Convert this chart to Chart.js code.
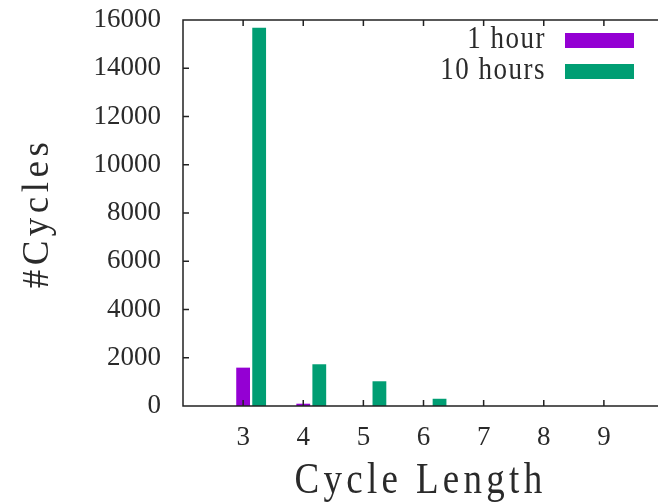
<!DOCTYPE html>
<html>
<head>
<meta charset="utf-8">
<script src="https://cdn.jsdelivr.net/npm/chart.js@4.4.1/dist/chart.umd.min.js"></script>
<style>
  body { margin: 0; background: #fff; }
</style>
</head>
<body>
<canvas id="myChart" width="658" height="502"></canvas>
<script>
// x axis: cycle length
var cycleLengths = [3, 4, 5, 6, 7, 8, 9];
// number of cycles found, per run length
var oneHour = [1590, 95, 0, 0, 0, 0, 0];
var tenHours = [15680, 1730, 1025, 300, 0, 0, 0];
var seriesLabels = ['1 hour', '10 hours'];
var seriesColors = ['#9400d3', '#009e73'];

var serif = '"Liberation Serif", "DejaVu Serif", serif';
var textColor = '#2a2a2a';

function points(values) {
    return cycleLengths.map(function (x, i) { return { x: x, y: values[i] }; });
}

// draws the box, the inward ticks, axis titles and the legend (gnuplot look)
var gnuplotFrame = {
    id: 'gnuplotFrame',
    afterDraw: function (chart) {
        var ctx = chart.ctx, a = chart.chartArea;
        var xs = chart.scales.x, ys = chart.scales.y;
        ctx.save();
        ctx.strokeStyle = '#222';
        ctx.lineWidth = 1.5;
        ctx.beginPath();
        ctx.moveTo(a.right, a.top);
        ctx.lineTo(a.left, a.top);
        ctx.lineTo(a.left, a.bottom);
        ctx.lineTo(a.right, a.bottom);
        cycleLengths.forEach(function (v) {
            var px = xs.getPixelForValue(v);
            ctx.moveTo(px, a.bottom); ctx.lineTo(px, a.bottom - 6);
            ctx.moveTo(px, a.top); ctx.lineTo(px, a.top + 6);
        });
        ys.ticks.forEach(function (t) {
            var py = ys.getPixelForValue(t.value);
            ctx.moveTo(a.left, py); ctx.lineTo(a.left + 6, py);
        });
        ctx.stroke();

        ctx.fillStyle = textColor;
        // x title
        ctx.font = '37px ' + serif;
        ctx.letterSpacing = '4.3px';
        ctx.textAlign = 'center';
        ctx.textBaseline = 'alphabetic';
        ctx.save();
        ctx.translate((a.left + a.right) / 2, 493);
        ctx.scale(1, 1.2);
        ctx.fillText('Cycle Length', 0, 0);
        ctx.restore();
        // y title
        ctx.letterSpacing = '4.5px';
        ctx.save();
        ctx.translate(48, (a.top + a.bottom) / 2);
        ctx.rotate(-Math.PI / 2);
        ctx.fillText('#Cycles', 0, 0);
        ctx.restore();

        // legend: text right aligned, sample box on the right
        ctx.font = '27px ' + serif;
        ctx.letterSpacing = '1.5px';
        ctx.textAlign = 'right';
        seriesLabels.forEach(function (label, i) {
            var base = 48 + i * 31;
            ctx.fillStyle = textColor;
            ctx.save();
            ctx.translate(546, base);
            ctx.scale(1, 1.15);
            ctx.fillText(label, 0, 0);
            ctx.restore();
            ctx.fillStyle = seriesColors[i];
            ctx.fillRect(565, base - 15, 69, 15);
        });
        ctx.restore();
    }
};

var ctx = document.getElementById('myChart').getContext('2d');
var chart = new Chart(ctx, {
    type: 'bar',
    data: {
        datasets: [{
            // empty slot so the 1 hour bar sits on the tick
            label: '',
            data: points(cycleLengths.map(function () { return 0; })),
            backgroundColor: 'rgba(0,0,0,0)',
            borderWidth: 0
        }, {
            label: seriesLabels[0],
            data: points(oneHour),
            backgroundColor: seriesColors[0]
        }, {
            label: seriesLabels[1],
            data: points(tenHours),
            backgroundColor: seriesColors[1]
        }]
    },
    options: {
        responsive: false,
        animation: false,
        categoryPercentage: 0.8,
        barPercentage: 0.86,
        layout: { padding: { left: 0, right: 0, top: 20, bottom: 0 } },
        plugins: {
            legend: { display: false },
            tooltip: { enabled: false }
        },
        scales: {
            x: {
                type: 'linear',
                min: 2,
                max: 9.9,
                offset: false,
                grid: { display: false, drawTicks: false },
                border: { display: false },
                ticks: {
                    stepSize: 1,
                    includeBounds: false,
                    autoSkip: false,
                    maxRotation: 0,
                    padding: 16,
                    color: textColor,
                    font: { family: serif, size: 27 },
                    callback: function (v) { return cycleLengths.indexOf(v) >= 0 ? String(v) : ''; }
                },
                afterFit: function (s) {
                    s.height = 96;
                    s.paddingLeft = 0;
                    s.paddingRight = 0;
                }
            },
            y: {
                min: 0,
                max: 16000,
                grid: { display: false, drawTicks: false },
                border: { display: false },
                ticks: {
                    stepSize: 2000,
                    padding: 22,
                    color: textColor,
                    font: { family: serif, size: 27 },
                    callback: function (v) { return String(v); }
                },
                afterFit: function (s) {
                    s.width = 183;
                    s.paddingTop = 0;
                    s.paddingBottom = 0;
                }
            }
        }
    },
    plugins: [gnuplotFrame]
});
</script>
</body>
</html>
